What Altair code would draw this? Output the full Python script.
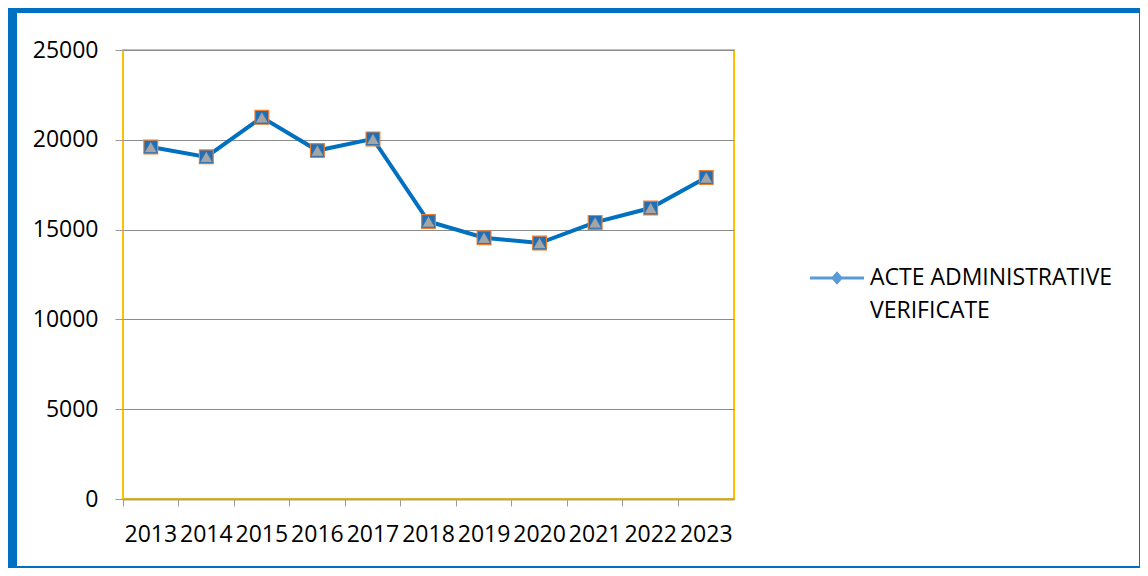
import altair as alt
import pandas as pd

years = ["2013", "2014", "2015", "2016", "2017", "2018", "2019", "2020", "2021", "2022", "2023"]
values = [19600, 19050, 21250, 19400, 20050, 15450, 14550, 14250, 15400, 16200, 17900]
series_name = "ACTE ADMINISTRATIVE\nVERIFICATE"
y_ticks = [0, 5000, 10000, 15000, 20000, 25000]

df = pd.DataFrame({"year": years, "value": values, "series": [series_name] * len(years)})

# layout
PLOT_W, PLOT_H = 611, 449
PAD_L, PAD_T = 115, 42
TOTAL_W, TOTAL_H = 1132, 560
FONT = "Open Sans"

x_enc = alt.X("year:N", bandPosition=0.5,
              scale=alt.Scale(type="band", paddingInner=0, paddingOuter=0, domain=years),
              axis=alt.Axis(title=None, labelAngle=0, bandPosition=0,
                            labelFontSize=23, labelFont=FONT, labelColor="#000000",
                            tickColor="#9A9A9A", tickSize=7, tickWidth=1, labelPadding=17,
                            domainColor="#B9A262", domainWidth=2, grid=False, labelBaseline="top"))
y_enc = alt.Y("value:Q", scale=alt.Scale(domain=[0, 25000], nice=False),
              axis=alt.Axis(title=None, values=y_ticks, format="d", labelFontSize=23, labelFont=FONT,
                            labelColor="#000000", tickColor="#9A9A9A", tickSize=8, labelPadding=17,
                            domain=False, grid=True, gridColor="#8C8C8C", gridWidth=1))

base = alt.Chart(df)

line = base.mark_line(color="#0070C0", strokeWidth=4).encode(x=x_enc, y=y_enc)
squares = base.mark_point(shape="square", filled=True, size=190, fill="#1F6FB8",
                          stroke="#ED7D31", strokeWidth=1.2, opacity=1).encode(x=x_enc, y=y_enc)
triangles = base.mark_point(shape="triangle-up", filled=True, size=175, fill="#A5A5A5",
                            stroke="#2E75B6", strokeWidth=1, opacity=1).encode(x=x_enc, y=y_enc)

LEG_PATH = "M-1,-0.06H1V0.06H-1ZM0,-0.25L0.22,0L0,0.25L-0.22,0Z"
legend_carrier = base.mark_point(filled=True, color="#5B9BD5", opacity=1).encode(
    x=x_enc, y=y_enc,
    shape=alt.Shape("series:N", scale=alt.Scale(domain=[series_name], range=[LEG_PATH]),
                    legend=alt.Legend(title=None, orient="none", legendX=686, legendY=200,
                                      symbolSize=2916, symbolFillColor="#5B9BD5",
                                      labelExpr="split(datum.label, '\\n')", labelLimit=500,
                                      labelFontSize=23, labelFont=FONT, labelColor="#000000",
                                      labelOffset=5, labelBaseline="middle"))
).transform_filter("false")

# outer blue frame (decoration)
frame = alt.Chart(pd.DataFrame({"a": [0]})).mark_rect(
    fill="transparent", stroke="#0070C0", strokeWidth=10, clip=False
).encode(x=alt.value(4 - PAD_L), x2=alt.value(1136 - PAD_L),
         y=alt.value(0 - PAD_T), y2=alt.value(563 - PAD_T))

chart = alt.layer(frame, line, squares, triangles, legend_carrier).properties(
    width=PLOT_W, height=PLOT_H,
    autosize=alt.AutoSizeParams(type="none"),
    padding={"left": PAD_L, "top": PAD_T, "right": TOTAL_W - PAD_L - PLOT_W, "bottom": TOTAL_H - PAD_T - PLOT_H},
).configure(
    background="#FFFFFF",
    style={"guide-label": {"lineHeight": 33}},
).configure_view(stroke="#FFC000", strokeWidth=2)

chart.save("out.html", embed_options={"renderer": "svg", "actions": False})
